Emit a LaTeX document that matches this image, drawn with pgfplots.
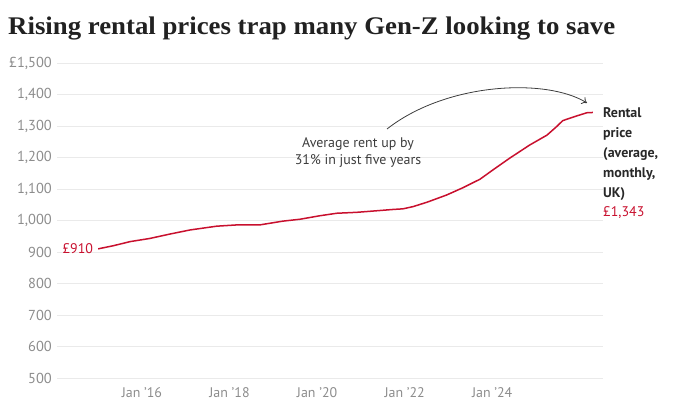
\documentclass[border=0pt]{standalone}
\usepackage{fontspec}
\setmainfont{PT Sans}
\newfontfamily\titlefont[FakeStretch=1.055]{Liberation Serif}
\usepackage{pgfplots}
\pgfplotsset{compat=1.18}
\usetikzlibrary{arrows.meta}
\definecolor{tred}{RGB}{200,16,46}
\definecolor{tgrid}{RGB}{234,234,234}
\definecolor{tticks}{RGB}{140,140,140}
\definecolor{tdark}{RGB}{40,40,40}
\definecolor{tanno}{RGB}{60,60,60}
\pgfplotstableread{
year value
2015.00 910
2015.35 920
2015.73 933
2016.18 943
2016.64 957
2017.10 970
2017.71 982
2018.17 986
2018.69 986
2019.22 998
2019.61 1004
2020.06 1015
2020.45 1023
2020.91 1026
2021.37 1031
2021.73 1035
2021.96 1037
2022.19 1044
2022.51 1058
2022.96 1081
2023.33 1104
2023.72 1131
2024.01 1160
2024.40 1198
2024.86 1240
2025.25 1271
2025.47 1298
2025.61 1317
2025.93 1332
2026.16 1342
2026.30 1343
}\rentdata
\begin{document}
\begin{tikzpicture}
\useasboundingbox (-57bp,-38bp) rectangle (623bp,378bp);
\begin{axis}[
  at={(0,0)}, anchor=south west,
  scale only axis, width=546bp, height=315bp,
  xmin=2014.06, xmax=2026.53, ymin=500, ymax=1500,
  axis line style={draw=none}, tick style={draw=none},
  ymajorgrids, grid style={tgrid, line width=0.8bp},
  ytick={500,600,...,1500},
  yticklabels={500,600,700,800,900,{1,000},{1,100},{1,200},{1,300},{1,400},{£1,500}},
  xtick={2016,2018,2020,2022,2024},
  xticklabels={Jan '16,Jan '18,Jan '20,Jan '22,Jan '24},
  yticklabel style={anchor=east, inner sep=0pt, xshift=-5bp, font=\fontsize{14.5}{16}\selectfont, text=tticks},
  xticklabel style={anchor=base, inner sep=0pt, yshift=-19bp, font=\fontsize{14}{16}\selectfont, text=tticks},
  clip=false,
]
\addplot[tred, line width=1.5bp] table[x=year, y=value] {\rentdata};
\node[anchor=east, text=tred, font=\fontsize{14}{16}\selectfont, inner sep=0pt, xshift=-5bp] at (axis cs:2015,910) {£910};
\end{axis}
\node[anchor=base west, inner sep=0pt, text=black!87, font=\titlefont\bfseries\fontsize{25.5}{28}\selectfont] at (-49bp,343bp) {Rising rental prices trap many Gen-Z looking to save};
\begin{scope}[every node/.style={anchor=base west, inner sep=0pt, text=tdark, font=\bfseries\fontsize{14}{16}\selectfont}]
\node at (546bp,260bp) {Rental};
\node at (546bp,240bp) {price};
\node at (546bp,220bp) {(average,};
\node at (546bp,200bp) {monthly,};
\node at (546bp,180bp) {UK)};
\node[text=tred, font=\fontsize{14}{16}\selectfont] at (546bp,161bp) {£1,343};
\end{scope}
\node[anchor=base, inner sep=0pt, text=tanno, font=\fontsize{14}{16}\selectfont] at (301bp,230bp) {Average rent up by};
\node[anchor=base, inner sep=0pt, text=tanno, font=\fontsize{14}{16}\selectfont] at (301bp,213bp) {31\% in just five years};
\draw[tanno, line width=0.8bp, -{To[length=5bp,width=8bp]}] (330bp,249bp) .. controls (390bp,296bp) and (490bp,300bp) .. (530bp,275bp);
\end{tikzpicture}
\end{document}
